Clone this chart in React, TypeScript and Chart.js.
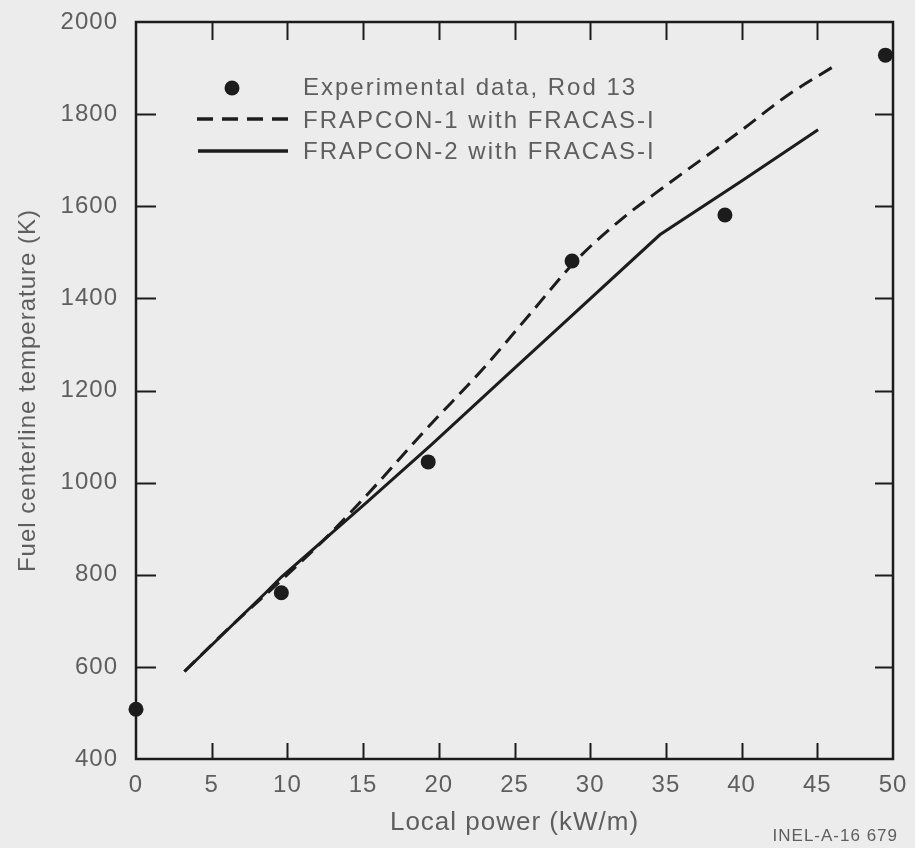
import { useEffect, useRef } from "react";
import { Chart, registerables } from "chart.js";

Chart.register(...registerables);

// ---- data ----
const expPower = [0, 9.6, 19.3, 28.8, 38.9, 49.5];
const expTemp = [508, 761, 1045, 1481, 1581, 1928];

const frap1Power = [3.2, 6, 10, 13, 16, 19, 23, 26, 29, 32, 35, 40, 43, 46.4];
const frap1Temp = [590, 680, 800, 895, 1000, 1110, 1250, 1365, 1480, 1570, 1645, 1765, 1840, 1910];

const frap2Power = [3.2, 8.6, 9.6, 15.2, 19.5, 24, 28.5, 34.6, 40, 45.05];
const frap2Temp = [590, 762, 795, 956, 1082, 1218, 1354, 1538, 1655, 1766];

const xTickValues = [0, 5, 10, 15, 20, 25, 30, 35, 40, 45, 50];
const yTickValues = [400, 600, 800, 1000, 1200, 1400, 1600, 1800, 2000];

const seriesLabels = [
  "Experimental data, Rod 13",
  "FRAPCON-1 with FRACAS-I",
  "FRAPCON-2 with FRACAS-I",
];
const xTitle = "Local power (kW/m)";
const yTitle = "Fuel centerline temperature (K)";
const noteText = "INEL-A-16 679";

const INK = "#1c1c1c";
const TEXT = "#5e5e5e";
const BG = "#ececec";
const FONT = "'Liberation Sans', Arial, Helvetica, sans-serif";

const framePlugin = {
  id: "framePlugin",
  beforeDraw(chart: any) {
    const ctx = chart.ctx;
    ctx.save();
    ctx.fillStyle = BG;
    ctx.fillRect(0, 0, chart.width, chart.height);
    ctx.restore();
    (ctx as any).letterSpacing = "1px";
  },
  afterDraw(chart: any) {
    const ctx = chart.ctx;
    const { left, right, top, bottom } = chart.chartArea;
    const xs = chart.scales.x;
    const ys = chart.scales.y;
    const tl = 18;
    ctx.save();
    ctx.strokeStyle = INK;
    ctx.lineWidth = 2;
    ctx.beginPath();
    xTickValues.forEach((v) => {
      if (v === xs.min || v === xs.max) return;
      const px = Math.round(xs.getPixelForValue(v)) + 0.5;
      ctx.moveTo(px, bottom);
      ctx.lineTo(px, bottom - tl + 2);
      ctx.moveTo(px, top);
      ctx.lineTo(px, top + tl);
    });
    yTickValues.forEach((v) => {
      if (v === ys.min || v === ys.max) return;
      const py = Math.round(ys.getPixelForValue(v)) + 0.5;
      ctx.moveTo(left, py);
      ctx.lineTo(left + tl + 2, py);
      ctx.moveTo(right, py);
      ctx.lineTo(right - tl, py);
    });
    ctx.stroke();
    ctx.lineWidth = 2.5;
    ctx.strokeRect(left, top, right - left, bottom - top);

    // note
    (ctx as any).letterSpacing = "1px";
    ctx.fillStyle = TEXT;
    ctx.font = `17px ${FONT}`;
    ctx.textAlign = "right";
    ctx.textBaseline = "middle";
    ctx.fillText(noteText, 898, 836);
    ctx.restore();
  },
};

const legendPlugin = {
  id: "innerLegend",
  afterDatasetsDraw(chart: any) {
    const ctx = chart.ctx;
    const ds = chart.data.datasets;
    ctx.save();
    ctx.fillStyle = INK;
    ctx.beginPath();
    ctx.arc(232, 88, 7.5, 0, Math.PI * 2);
    ctx.fill();
    ctx.strokeStyle = INK;
    ctx.lineWidth = 3.5;
    ctx.setLineDash([16, 9]);
    ctx.beginPath();
    ctx.moveTo(197, 119);
    ctx.lineTo(288, 119);
    ctx.stroke();
    ctx.setLineDash([]);
    ctx.beginPath();
    ctx.moveTo(198, 151);
    ctx.lineTo(288, 151);
    ctx.stroke();

    (ctx as any).letterSpacing = "2px";
    ctx.fillStyle = TEXT;
    ctx.font = `24px ${FONT}`;
    ctx.textAlign = "left";
    ctx.textBaseline = "middle";
    const rows = [88, 121, 152];
    rows.forEach((y, i) => {
      ctx.fillText(ds[i].label, 303, y);
    });
    ctx.restore();
  },
};

export default function App() {
  const ref = useRef<HTMLCanvasElement | null>(null);

  useEffect(() => {
    document.body.style.margin = "0";
    document.body.style.background = BG;
    const canvas = ref.current;
    if (!canvas) return;
    const chart = new Chart(canvas, {
      type: "scatter",
      data: {
        datasets: [
          {
            label: seriesLabels[0],
            data: expPower.map((x, i) => ({ x, y: expTemp[i] })),
            showLine: false,
            pointRadius: 7.5,
            pointHoverRadius: 7.5,
            backgroundColor: INK,
            borderWidth: 0,
            order: 0,
            clip: false,
          },
          {
            label: seriesLabels[1],
            data: frap1Power.map((x, i) => ({ x, y: frap1Temp[i] })),
            showLine: true,
            pointRadius: 0,
            borderColor: INK,
            borderWidth: 3,
            borderDash: [15, 8],
            cubicInterpolationMode: "monotone",
            fill: false,
            order: 1,
          },
          {
            label: seriesLabels[2],
            data: frap2Power.map((x, i) => ({ x, y: frap2Temp[i] })),
            showLine: true,
            pointRadius: 0,
            borderColor: INK,
            borderWidth: 3,
            tension: 0,
            fill: false,
            order: 2,
          },
        ],
      },
      options: {
        responsive: false,
        animation: false,
        layout: { padding: { top: 22, right: 22, left: 0, bottom: 0 } },
        plugins: {
          legend: { display: false },
          tooltip: { enabled: false },
        },
        scales: {
          x: {
            type: "linear",
            min: 0,
            max: 50,
            afterBuildTicks: (s: any) => {
              s.ticks = xTickValues.map((v) => ({ value: v }));
            },
            afterFit: (s: any) => {
              s.height = 89;
              s.paddingLeft = 0;
              s.paddingRight = 0;
            },
            grid: { display: false, drawTicks: false },
            border: { display: false },
            ticks: {
              padding: 12,
              color: TEXT,
              font: { family: FONT, size: 24 },
              maxRotation: 0,
              autoSkip: false,
              callback: (v: any) => String(v),
            },
            title: {
              display: true,
              text: xTitle,
              color: TEXT,
              font: { family: FONT, size: 26 },
              padding: { top: 0, bottom: 10 },
            },
          },
          y: {
            type: "linear",
            min: 400,
            max: 2000,
            afterBuildTicks: (s: any) => {
              s.ticks = yTickValues.map((v) => ({ value: v }));
            },
            afterFit: (s: any) => {
              s.width = 136;
              s.paddingTop = 0;
              s.paddingBottom = 0;
            },
            grid: { display: false, drawTicks: false },
            border: { display: false },
            ticks: {
              padding: 18,
              color: TEXT,
              font: { family: FONT, size: 24 },
              autoSkip: false,
              callback: (v: any) => String(v),
            },
            title: {
              display: true,
              text: yTitle,
              color: TEXT,
              font: { family: FONT, size: 24 },
              padding: { top: 14, bottom: 0 },
            },
          },
        },
      },
      plugins: [framePlugin, legendPlugin],
    } as any);
    return () => chart.destroy();
  }, []);

  return (
    <div style={{ position: "absolute", left: 0, top: 0, width: 915, height: 848, background: BG }}>
      <canvas ref={ref} width={915} height={848} style={{ display: "block", width: 915, height: 848 }} />
    </div>
  );
}
